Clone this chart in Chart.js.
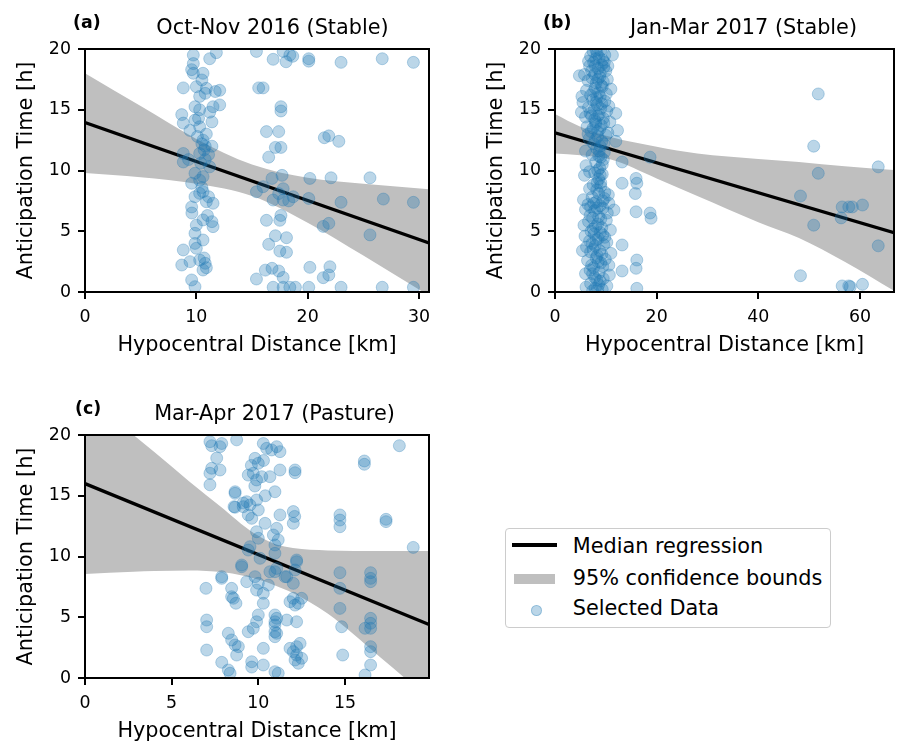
<!DOCTYPE html>
<html><head><meta charset="utf-8">
<script src="https://cdn.jsdelivr.net/npm/chart.js@4.4.0/dist/chart.umd.min.js"></script>
<style>
html,body{margin:0;padding:0;background:#fff;width:901px;height:744px;overflow:hidden;font-family:'DejaVu Sans',sans-serif;position:relative;}
canvas{position:absolute;}
.t{position:absolute;font-size:20.8px;line-height:24.2px;white-space:nowrap;color:#000;text-align:center;width:400px;}
.l{position:absolute;font-size:17.4px;font-weight:bold;line-height:20.25px;white-space:nowrap;color:#000;}
.lg{position:absolute;font-size:20.8px;line-height:24.2px;white-space:nowrap;color:#000;}
</style></head><body>
<canvas id="ca" width="450" height="370" style="left:0;top:0"></canvas>
<canvas id="cb" width="431" height="370" style="left:470px;top:0"></canvas>
<canvas id="cc" width="450" height="370" style="left:0;top:386px"></canvas>

<div class="l" style="left:73px;top:12px">(a)</div>
<div class="t" style="left:72.5px;top:14.7px">Oct-Nov 2016 (Stable)</div>
<div class="l" style="left:543px;top:12px">(b)</div>
<div class="t" style="left:543.5px;top:14.7px">Jan-Mar 2017 (Stable)</div>
<div class="l" style="left:75px;top:398px">(c)</div>
<div class="t" style="left:74.5px;top:400.7px">Mar-Apr 2017 (Pasture)</div>

<div style="position:absolute;left:505px;top:528px;width:324px;height:98px;border:1px solid #cccccc;border-radius:4px;background:#fff;"></div>
<div style="position:absolute;left:512px;top:543.4px;width:45px;height:3.3px;background:#000;"></div>
<div style="position:absolute;left:514px;top:574px;width:41px;height:10px;background:#bfbfbf;"></div>
<div style="position:absolute;left:531px;top:604.5px;width:9px;height:9px;border-radius:50%;background:rgba(31,119,180,0.3);border:1px solid rgba(31,119,180,0.3);"></div>
<div class="lg" style="left:572.7px;top:534px">Median regression</div>
<div class="lg" style="left:572.7px;top:565.7px">95% confidence bounds</div>
<div class="lg" style="left:572.7px;top:595.7px">Selected Data</div>

<script>
// ---------- Tick labels ----------
const yTicks = [0, 5, 10, 15, 20];
const aXTicks = [0, 10, 20, 30];
const bXTicks = [0, 20, 40, 60];
const cXTicks = [0, 5, 10, 15];

// ---------- Panel (a) Oct-Nov 2016 ----------
const aPoints = [
[9.73,19.5],[9.73,18.8],[9.58,18.3],[9.73,18.0],[11.2,19.2],[11.8,19.7],
[10.6,18.0],[10.5,17.45],[8.83,16.8],[10.0,16.9],[10.9,16.76],[12.1,16.6],[11.7,16.5],
[10.3,16.1],[10.8,16.35],[12.1,15.4],[11.5,15.25],[9.88,15.25],[10.3,15.0],[11.2,14.8],
[8.69,14.6],[8.83,13.9],[9.88,14.15],[11.4,14.0],[9.43,13.3],[10.3,13.6],
[8.83,11.4],[8.83,10.7],[10.6,12.5],[10.8,12.0],[11.4,12.0],[10.3,11.4],[11.1,11.3],[10.8,10.9],[11.2,10.3],
[9.88,9.77],[9.58,8.95],[10.3,9.2],[10.3,8.12],[10.6,8.26],[11.1,7.84],[9.88,7.84],
[11.5,7.3],[9.58,7.0],[10.9,7.43],[10.6,5.93],[11.4,5.79],[10.0,5.5],[11.5,5.38],
[9.88,4.83],[10.6,4.28],[9.88,4.0],[8.83,3.46],[10.0,3.6],
[8.69,2.22],[9.43,2.5],[10.3,2.63],[10.8,2.36],[10.6,1.81],[9.58,0.99],[9.88,0.44],
[10.5,12.2],[10.7,11.7],[10.4,10.6],[10.6,9.5],[10.5,8.6],[10.9,2.0],[10.7,2.8],[10.2,14.3],[9.3,10.9],[10.9,13.0],[10.1,12.8],[11.0,6.3],[9.6,6.5],
[15.4,19.8],[16.9,19.15],[17.8,19.8],[18.06,18.95],[18.66,19.4],[18.4,19.5],[20.1,19.2],[20.1,19.0],[23.0,18.9],[26.7,19.2],[29.5,18.9],
[16.0,16.8],[15.6,16.8],[17.6,15.25],[17.6,14.9],[16.3,13.2],[17.4,13.2],[21.5,12.7],[21.9,12.85],[22.8,12.4],
[17.1,11.9],[17.6,11.9],[16.5,11.1],[17.7,9.6],[16.8,9.35],[20.2,9.35],[22.1,9.4],[25.6,9.4],
[15.4,8.25],[16.0,8.67],[16.9,7.57],[17.8,7.57],[18.7,7.84],[17.8,8.5],[20.1,7.7],[23.0,7.38],[26.8,7.65],[29.5,7.38],[17.4,8.1],[18.3,7.5],
[16.3,5.9],[17.5,5.9],[17.6,6.3],[21.4,5.4],[21.9,5.65],[25.6,4.7],[17.1,4.63],[18.1,4.47],[16.5,3.92],[17.5,3.37],[18.1,3.27],
[20.2,2.03],[22.0,2.08],[15.4,1.07],[16.2,1.8],[16.8,1.95],[17.4,1.73],[17.8,1.2],[21.4,1.18],[21.9,1.4],
[16.9,0.39],[17.8,0.39],[18.4,0.39],[18.9,0.39],[20.1,0.39],[23.0,0.39],[26.7,0.39],[29.5,0.39]
];
const aLineX = [0, 30.9];
const aLineY = [13.95, 4.03];
const aBandX = [0, 5, 10, 15, 20, 25, 30.9];
const aBandUp = [18.0, 15.3, 12.6, 10.5, 9.4, 8.9, 8.45];
const aBandLo = [9.8, 9.45, 8.9, 7.9, 5.7, 3.0, -0.3];

// ---------- Panel (b) Jan-Mar 2017 ----------
const bPoints = [
[7.5,19.8],[8.3,19.6],[9.0,19.9],[9.8,19.5],[8.0,19.2],[11.3,19.5],[7.0,19.4],[9.4,19.1],
[6.8,18.6],[7.6,18.9],[8.5,18.4],[9.2,18.7],[10.0,18.2],[8.9,18.0],[7.2,18.2],[9.7,18.9],
[5.8,17.9],[4.8,17.8],[6.5,17.4],[7.3,17.6],[8.1,17.2],[8.8,17.7],[9.5,17.3],[10.3,17.5],[7.8,17.9],
[6.2,16.6],[7.0,16.2],[7.9,16.8],[8.6,16.4],[9.3,16.9],[10.1,16.3],[11.0,16.7],[8.2,16.0],
[5.5,15.6],[6.6,15.2],[7.4,15.8],[8.3,15.4],[9.0,15.1],[9.8,15.7],[10.6,15.3],[7.7,15.0],
[5.2,14.8],[6.0,14.4],[6.9,14.7],[7.8,14.2],[8.7,14.6],[9.5,14.3],[10.2,14.9],[11.96,14.7],[8.0,14.0],
[6.3,13.6],[7.1,13.2],[8.0,13.8],[8.8,13.4],[9.6,13.9],[10.4,13.1],[12.3,13.3],[7.5,13.5],
[6.7,12.6],[7.6,12.2],[8.4,12.8],[9.2,12.4],[10.0,12.9],[11.96,12.4],[8.9,12.0],
[6.0,11.6],[7.3,11.3],[8.2,11.8],[9.0,11.1],[9.7,11.5],[8.6,11.2],[18.7,11.1],
[6.1,10.4],[8.0,10.7],[8.8,10.2],[9.5,10.9],[13.2,10.7],[8.4,10.0],
[5.8,9.6],[7.8,9.8],[8.6,9.3],[9.3,9.7],[9.0,9.0],[15.95,9.35],[16.1,8.95],
[7.5,8.8],[8.2,8.4],[9.0,8.7],[9.8,8.2],[6.8,8.5],[13.2,8.95],[15.8,8.1],[10.5,8.0],
[5.6,7.6],[6.5,7.2],[7.3,7.8],[8.1,7.4],[8.9,7.1],[9.7,7.7],[10.6,7.3],[7.0,7.0],
[6.0,6.8],[6.9,6.3],[7.8,6.7],[8.6,6.2],[9.4,6.9],[10.3,6.5],[11.6,6.75],[15.95,6.6],[18.7,6.5],[18.9,6.07],
[5.7,5.5],[6.6,5.8],[7.5,5.2],[8.4,5.6],[9.2,5.3],[10.1,5.9],[7.1,5.0],
[5.9,4.6],[6.8,4.2],[7.7,4.8],[8.5,4.4],[9.4,4.7],[10.2,4.1],[13.2,3.87],[7.3,4.0],
[6.2,3.7],[7.0,3.3],[7.9,3.8],[8.8,3.4],[9.6,3.9],[11.0,3.18],[8.3,3.0],
[6.4,2.6],[7.2,2.2],[8.1,2.8],[9.0,2.4],[9.9,2.7],[16.1,2.63],[15.95,1.95],[7.6,2.0],
[6.0,1.5],[6.9,1.8],[7.8,1.2],[8.7,1.6],[9.5,1.1],[13.2,1.73],[10.7,1.4],[8.2,1.0],
[6.1,0.4],[7.0,0.7],[7.9,0.3],[8.6,0.6],[9.3,0.2],[10.2,0.5],[16.1,0.3],[7.4,0.1],
[8.1,19.9],[8.7,19.3],[9.6,18.5],[7.9,18.6],[8.4,17.5],[9.1,17.0],[7.6,16.5],[8.9,16.1],[8.1,15.6],[9.2,15.5],
[7.2,14.5],[8.4,14.5],[9.1,13.7],[8.4,13.2],[7.9,12.5],[9.6,12.2],[8.7,11.6],[9.3,10.5],[8.9,9.6],[8.3,9.0],
[8.6,8.1],[9.4,7.5],[7.6,7.3],[8.3,6.9],[9.0,6.0],[7.4,6.1],[8.0,5.4],[8.9,4.9],[9.8,4.5],[8.1,4.3],
[7.5,3.5],[9.2,3.1],[8.5,2.5],[9.4,2.1],[7.4,1.5],[8.9,0.9],[8.4,0.2],[6.6,19.0],[10.4,18.6],[5.3,16.1],
[10.8,14.0],[6.5,13.0],[6.8,9.9],[10.9,5.1],[5.4,3.4],[10.6,2.2],
[51.8,16.3],[50.9,12.0],[51.8,9.77],[63.6,10.3],[48.3,7.9],[56.5,7.0],[57.8,7.0],[58.5,7.0],[60.5,7.16],
[56.3,6.1],[50.9,5.5],[63.6,3.8],[48.3,1.34],[56.5,0.5],[57.8,0.5],[58.1,0.44],[60.5,0.63]
];
const bLineX = [0, 66.7];
const bLineY = [13.1, 4.88];
const bBandX = [0, 5, 11, 20, 28, 40, 48, 57, 66.7];
const bBandUp = [14.65, 13.6, 12.75, 11.95, 11.4, 10.95, 10.7, 10.35, 10.05];
const bBandLo = [11.4, 11.25, 10.9, 9.35, 7.9, 5.75, 4.45, 2.5, 0.1];

// ---------- Panel (c) Mar-Apr 2017 ----------
const cPoints = [
[7.21,19.45],[7.31,19.12],[7.79,19.04],[7.89,19.3],[8.75,19.6],
[7.6,18.1],[7.31,17.26],[7.79,17.12],[7.21,16.85],[7.21,15.9],
[8.66,15.2],[8.6,14.1],[9.13,14.4],[9.04,9.16],[7.89,8.2],[6.98,7.38],
[8.46,7.38],[8.56,6.56],[8.71,6.15],[7.02,4.77],[7.02,4.22],
[8.27,3.68],[8.46,3.13],[8.66,2.72],[8.85,2.58],[8.75,1.89],[7.02,2.3],
[7.89,1.29],[8.27,0.66],[8.37,0.39],[9.62,1.34],
[10.29,19.3],[10.48,18.9],[10.77,18.77],[11.06,19.04],[11.25,18.63],
[9.81,18.08],[10.0,17.67],[9.71,16.85],[9.42,16.7],[9.9,16.3],[10.2,16.57],[10.67,16.57],
[11.25,17.12],[12.12,17.12],[12.12,16.9],[8.66,15.33],[10.96,15.33],
[9.33,14.51],[9.52,14.24],[9.13,14.1],[9.9,14.65],[10.0,13.83],[8.66,14.05],
[9.42,13.42],[9.62,13.14],[11.25,13.42],[12.02,13.7],[12.02,12.73],[12.1,13.3],[10.39,12.73],
[9.9,12.04],[10.0,11.5],[11.06,12.32],[10.87,11.77],[11.15,11.36],[10.96,10.95],
[9.52,10.81],[9.42,10.53],[10.96,10.26],[10.1,9.85],[9.04,9.3],[12.21,9.71],
[7.89,8.34],[9.33,7.93],[9.81,8.34],[10.0,7.79],[9.9,7.24],[10.29,6.97],[10.58,7.65],[10.96,8.75],[11.06,9.02],
[11.54,8.34],[12.02,7.79],[12.12,8.89],[10.67,8.75],[11.64,8.34],[12.21,9.57],
[8.46,6.69],[10.29,6.15],[11.83,6.28],[12.12,6.0],[12.5,6.56],[12.02,6.56],[12.31,6.15],
[9.42,3.81],[9.71,4.09],[9.9,4.63],[10.0,5.19],[10.96,5.19],[10.96,4.63],[10.96,3.81],[10.96,3.4],
[11.64,4.77],[12.21,4.63],[11.06,4.91],[10.96,4.36],[11.06,3.68],
[10.29,2.44],[11.83,2.44],[12.02,2.17],[12.21,2.58],[12.41,2.85],[12.12,1.48],[12.31,1.21],[12.5,1.62],[12.21,1.89],
[10.29,1.07],[10.96,0.52],[11.15,0.39],[9.62,0.9],
[9.6,17.5],[10.3,17.9],[9.8,15.8],[10.4,15.0],
[18.14,19.12],[16.12,17.86],[16.12,17.59],[14.71,13.42],[14.71,13.0],[14.71,12.45],[17.37,13.06],[17.37,12.87],[18.94,10.75],
[14.71,8.67],[14.71,7.38],[16.48,8.67],[16.48,8.2],[16.48,7.93],[14.71,5.73],[14.81,4.22],
[16.48,4.91],[16.48,4.5],[16.48,4.09],[16.16,4.09],[16.48,2.58],[16.48,2.17],[16.48,1.07],[14.87,1.89],[16.16,0.25]
];
const cLineX = [0, 19.85];
const cLineY = [16.0, 4.4];
const cBandX = [0, 2.8, 4, 6, 8, 9, 10, 11, 12, 14, 17, 19.85];
const cBandUp = [23.3, 20.0, 18.6, 16.2, 13.9, 12.7, 11.7, 11.0, 10.7, 10.5, 10.45, 10.45];
const cBandLo = [8.56, 8.75, 8.8, 8.85, 8.7, 8.45, 8.1, 7.6, 7.0, 5.3, 1.75, -1.7];

// ---------- Drawing ----------
const FONT = 'DejaVu Sans';
const spines = {
  id: 'spines',
  afterDraw(chart) {
    const a = chart.chartArea, c = chart.ctx;
    c.save(); c.strokeStyle = '#000'; c.lineWidth = 2;
    c.strokeRect(a.left, a.top, a.right - a.left, a.bottom - a.top);
    c.restore();
  }
};

function makeChart(id, pts, bandX, bandUp, bandLo, lineX, lineY, xMax, xTicks, padRight) {
  const toXY = (xs, ys) => xs.map((x, i) => ({x: x, y: ys[i]}));
  const gridOpts = {drawOnChartArea: false, drawTicks: true, tickLength: 7, tickWidth: 2, tickColor: '#000', color: '#000', lineWidth: 2};
  new Chart(document.getElementById(id), {
    type: 'scatter',
    data: {datasets: [
      {type: 'scatter', data: pts.map(p => ({x: p[0], y: p[1]})),
       backgroundColor: 'rgba(31,119,180,0.3)', borderColor: 'rgba(31,119,180,0.3)', borderWidth: 1,
       pointRadius: 6, pointHoverRadius: 6, order: 0, clip: 0},
      {type: 'line', data: toXY(lineX, lineY), borderColor: '#000', borderWidth: 3.3,
       pointRadius: 0, fill: false, order: 1, clip: 0},
      {type: 'line', data: toXY(bandX, bandUp), borderColor: 'rgba(0,0,0,0)', borderWidth: 0,
       backgroundColor: '#bfbfbf', pointRadius: 0, fill: '+1', cubicInterpolationMode: 'monotone', order: 2, clip: 0},
      {type: 'line', data: toXY(bandX, bandLo), borderColor: 'rgba(0,0,0,0)', borderWidth: 0,
       pointRadius: 0, fill: false, cubicInterpolationMode: 'monotone', order: 3, clip: 0}
    ]},
    options: {
      responsive: false, animation: false, events: [],
      layout: {padding: {top: 49, right: padRight, left: 0, bottom: 0}},
      plugins: {legend: {display: false}, tooltip: {enabled: false}},
      scales: {
        x: {type: 'linear', min: 0, max: xMax,
            afterFit: s => { s.height = 78; },
            afterBuildTicks: s => { s.ticks = xTicks.map(v => ({value: v})); },
            grid: gridOpts, border: {display: false},
            ticks: {color: '#000', font: {family: FONT, size: 17.4}, padding: 8, maxRotation: 0, autoSkip: false},
            title: {display: true, text: 'Hypocentral Distance [km]', color: '#000',
                    font: {family: FONT, size: 20.8}, padding: {top: 0, bottom: 12}}},
        y: {type: 'linear', min: 0, max: 20,
            afterFit: s => { s.width = 85; },
            afterBuildTicks: s => { s.ticks = yTicks.map(v => ({value: v})); },
            grid: gridOpts, border: {display: false},
            ticks: {color: '#000', font: {family: FONT, size: 17.4}, padding: 7, autoSkip: false},
            title: {display: true, text: 'Anticipation Time [h]', color: '#000',
                    font: {family: FONT, size: 20.8}, padding: {top: 14.5, bottom: 0}}}
      }
    },
    plugins: [spines]
  });
}

makeChart('ca', aPoints, aBandX, aBandUp, aBandLo, aLineX, aLineY, 30.9, aXTicks, 21);
makeChart('cb', bPoints, bBandX, bBandUp, bBandLo, bLineX, bLineY, 66.7, bXTicks, 2);
makeChart('cc', cPoints, cBandX, cBandUp, cBandLo, cLineX, cLineY, 19.85, cXTicks, 21);
</script>
</body></html>
